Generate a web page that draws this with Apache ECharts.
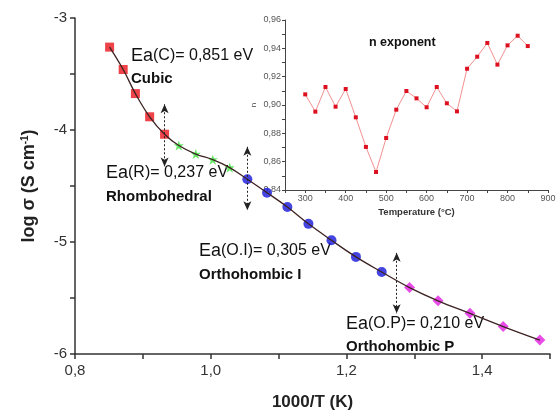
<!DOCTYPE html>
<html><head><meta charset="utf-8">
<script src="https://cdn.jsdelivr.net/npm/echarts@6/dist/echarts.min.js"></script>
<style>html,body{margin:0;padding:0;background:#fff}#c{width:560px;height:416px}</style>
</head><body><div id="c"></div>
<script>
// Main plot data: log sigma vs 1000/T
const cubicX = [0.851, 0.871, 0.889, 0.910, 0.932];
const cubicY = [-3.26, -3.46, -3.675, -3.882, -4.038];
const rhomboX = [0.953, 0.978, 1.003, 1.028];
const rhomboY = [-4.139, -4.215, -4.265, -4.336];
const orthoIX = [1.054, 1.083, 1.113, 1.144, 1.178, 1.214, 1.252];
const orthoIY = [-4.44, -4.56, -4.688, -4.838, -4.985, -5.133, -5.268];
const orthoPX = [1.293, 1.335, 1.382, 1.431, 1.485];
const orthoPY = [-5.407, -5.525, -5.637, -5.755, -5.876];
// Phase boundary arrows
const arrowX = [0.932, 1.054, 1.274];
const arrowTop = [-3.77, -4.15, -5.097];
const arrowBottom = [-4.327, -4.717, -5.637];
// Inset data: n exponent vs temperature
const temps = [300, 325, 350, 375, 400, 425, 450, 475, 500, 525, 550, 575, 600, 625, 650, 675, 700, 725, 750, 775, 800, 825, 850];
const nValues = [0.9075, 0.8953, 0.9127, 0.8988, 0.9113, 0.8913, 0.8704, 0.8527, 0.8767, 0.8967, 0.9099, 0.9047, 0.8984, 0.9127, 0.9012, 0.8955, 0.9256, 0.9341, 0.9438, 0.9285, 0.9421, 0.9489, 0.9416];

const zip = (xs, ys) => xs.map((x, i) => [x, ys[i]]);
const fitData = zip(cubicX.concat(rhomboX, orthoIX, orthoPX), cubicY.concat(rhomboY, orthoIY, orthoPY));
const arrows = arrowX.map((x, i) => [{coord: [x, arrowTop[i]]}, {coord: [x, arrowBottom[i]]}]);

const FONT = '"Liberation Sans", Arial, sans-serif';
const axisCol = '#333';
const eaRich = {e: {fontSize: 18, fontFamily: FONT, fill: '#111'}, r: {fontSize: 16, fontFamily: FONT, fill: '#111'}};
const phaseStyle = t => ({text: t, fontSize: 15, fontWeight: 'bold', fontFamily: FONT, fill: '#111'});

const chart = echarts.init(document.getElementById('c'), null, {renderer: 'canvas'});
chart.setOption({
  animation: false,
  backgroundColor: '#fff',
  textStyle: {fontFamily: FONT},
  grid: [
    {left: 75, top: 18, right: 10, bottom: 60},
    {left: 285, top: 20, width: 263, height: 170}
  ],
  xAxis: [
    {
      gridIndex: 0, type: 'value', min: 0.8, max: 1.5, interval: 0.1,
      name: '1000/T (K)', nameLocation: 'middle', nameGap: 40,
      nameTextStyle: {fontSize: 17, fontWeight: 'bold', color: '#222', fontFamily: FONT},
      splitLine: {show: false},
      axisLine: {lineStyle: {color: axisCol, width: 1.5}},
      axisTick: {inside: false, length: 5, lineStyle: {color: axisCol, width: 1.5}},
      axisLabel: {fontSize: 15, color: '#333', margin: 9, fontFamily: FONT,
        formatter: v => { const k = Math.round(v * 10); return k % 2 === 0 ? (k / 10).toFixed(1).replace('.', ',') : ''; }}
    },
    {
      gridIndex: 1, type: 'value', min: 250, max: 900, interval: 50,
      name: 'Temperature (°C)', nameLocation: 'middle', nameGap: 17,
      nameTextStyle: {fontSize: 9.5, fontWeight: 'bold', color: '#333', fontFamily: FONT},
      splitLine: {show: false},
      axisLine: {lineStyle: {color: '#444', width: 1}},
      axisTick: {inside: false, length: 3, lineStyle: {color: '#444'}},
      axisLabel: {fontSize: 9, color: '#555', margin: 4, fontFamily: FONT,
        formatter: v => (v % 100 === 0 && v >= 300) ? String(v) : ''}
    }
  ],
  yAxis: [
    {
      gridIndex: 0, type: 'value', min: -6, max: -3, interval: 0.5,
      name: '{a|log σ (S cm}{s|-1}{a|)}', nameLocation: 'middle', nameGap: 37, nameRotate: 90,
      nameTextStyle: {color: '#222', fontFamily: FONT,
        rich: {a: {fontSize: 18, fontWeight: 'bold', color: '#222', fontFamily: FONT},
               s: {fontSize: 10, fontWeight: 'bold', color: '#222', verticalAlign: 'top', fontFamily: FONT}}},
      splitLine: {show: false},
      axisLine: {lineStyle: {color: axisCol, width: 1.5}},
      axisTick: {inside: false, length: 5, lineStyle: {color: axisCol, width: 1.5}},
      axisLabel: {fontSize: 15, color: '#333', margin: 8, fontFamily: FONT,
        formatter: v => Math.abs(v - Math.round(v)) < 1e-6 ? String(Math.round(v)) : ''}
    },
    {
      gridIndex: 1, type: 'value', min: 0.84, max: 0.96, interval: 0.01,
      name: 'n', nameLocation: 'middle', nameGap: 27, nameRotate: 90,
      nameTextStyle: {fontSize: 8, color: '#444', fontFamily: FONT},
      splitLine: {show: false},
      axisLine: {lineStyle: {color: '#444', width: 1}},
      axisTick: {inside: false, length: 3, lineStyle: {color: '#444'}},
      axisLabel: {fontSize: 9, color: '#555', margin: 4, fontFamily: FONT,
        formatter: v => { const k = Math.round(v * 100); return k % 2 === 0 ? (k / 100).toFixed(2).replace('.', ',') : ''; }}
    }
  ],
  series: [
    {type: 'line', xAxisIndex: 0, yAxisIndex: 0, data: fitData, smooth: 0.4, showSymbol: false,
      lineStyle: {color: '#3d2222', width: 1.3}, z: 3,
      markLine: {silent: true, symbol: ['arrow', 'arrow'], symbolSize: [6, 9], label: {show: false},
        lineStyle: {color: '#222', type: [2, 2], width: 1}, data: arrows}},
    {type: 'scatter', xAxisIndex: 0, yAxisIndex: 0, data: zip(cubicX, cubicY), symbol: 'rect', symbolSize: 9,
      itemStyle: {color: '#e8141c'}, z: 2},
    {type: 'scatter', xAxisIndex: 0, yAxisIndex: 0, data: zip(rhomboX, rhomboY),
      symbol: 'path://M0,-10 L2.5,-3 L10,-3 L4,1.5 L6.5,9 L0,4.5 L-6.5,9 L-4,1.5 L-10,-3 L-2.5,-3 Z', symbolSize: 10,
      itemStyle: {color: '#3fe03f'}, z: 2},
    {type: 'scatter', xAxisIndex: 0, yAxisIndex: 0, data: zip(orthoIX, orthoIY), symbol: 'circle', symbolSize: 10,
      itemStyle: {color: '#1515d8'}, z: 2},
    {type: 'scatter', xAxisIndex: 0, yAxisIndex: 0, data: zip(orthoPX, orthoPY), symbol: 'diamond', symbolSize: 11,
      itemStyle: {color: '#e21fe2'}, z: 2},
    {type: 'line', xAxisIndex: 1, yAxisIndex: 1, data: zip(temps, nValues), symbol: 'rect', symbolSize: 4,
      lineStyle: {color: '#f29090', width: 1}, itemStyle: {color: '#dd1020'}}
  ],
  graphic: [
    {type: 'text', left: 131, top: 47, style: {text: '{e|Ea}{r|(C)= 0,851 eV}', rich: eaRich}},
    {type: 'text', left: 131, top: 71, style: phaseStyle('Cubic')},
    {type: 'text', left: 106, top: 164, style: {text: '{e|Ea}{r|(R)= 0,237 eV}', rich: eaRich}},
    {type: 'text', left: 106, top: 189, style: phaseStyle('Rhombohedral')},
    {type: 'text', left: 199, top: 242, style: {text: '{e|Ea}{r|(O.I)= 0,305 eV}', rich: eaRich}},
    {type: 'text', left: 199, top: 267, style: phaseStyle('Orthohombic I')},
    {type: 'text', left: 346, top: 315, style: {text: '{e|Ea}{r|(O.P)= 0,210 eV}', rich: eaRich}},
    {type: 'text', left: 346, top: 339, style: phaseStyle('Orthohombic P')},
    {type: 'text', left: 369, top: 36, style: {text: 'n exponent', fontSize: 12.5, fontWeight: 'bold', fontFamily: FONT, fill: '#111'}}
  ]
});
</script></body></html>
